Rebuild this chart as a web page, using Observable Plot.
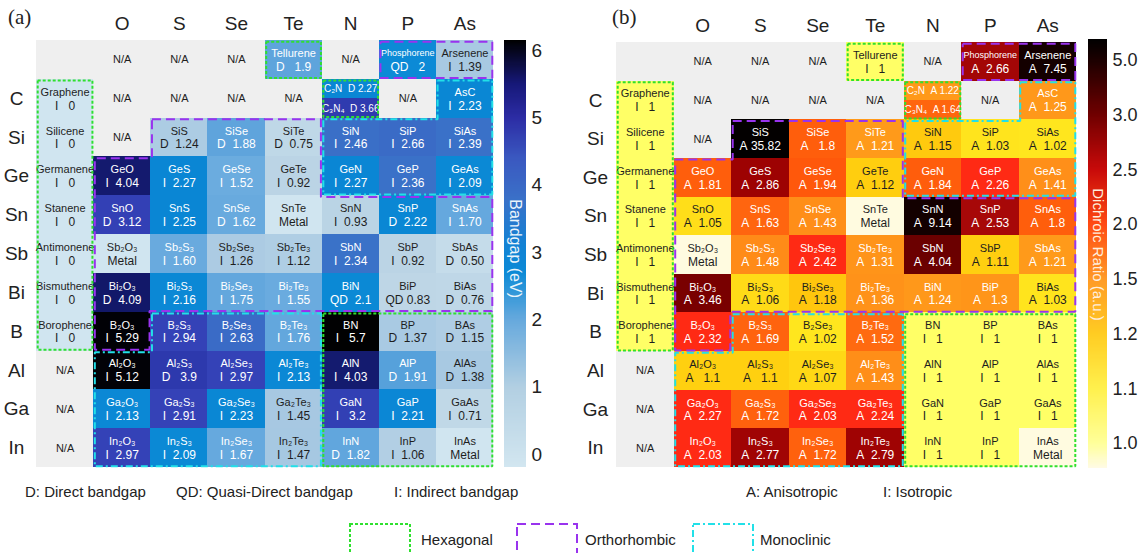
<!DOCTYPE html>
<html><head><meta charset="utf-8">
<script src="https://cdn.jsdelivr.net/npm/d3@7"></script>
<script src="https://cdn.jsdelivr.net/npm/@observablehq/plot@0.6"></script>
<style>
html,body{margin:0;padding:0;background:#fff;}
#root{position:relative;width:1139px;height:553px;overflow:hidden;font-family:"Liberation Sans",Arial,sans-serif;color:#222;}
#root > *{position:absolute;}
.plabel{font-family:"Liberation Serif","Times New Roman",serif;font-size:21px;line-height:24px;}
.note{font-size:15px;line-height:17px;white-space:nowrap;}
</style></head><body><div id="root"></div>
<script>
// ---------------- data ----------------
const columns = ["", "O", "S", "Se", "Te", "N", "P", "As"];
const rowLabels = ["", "C", "Si", "Ge", "Sn", "Sb", "Bi", "B", "Al", "Ga", "In"];
const names = [
  ["", "", "", "", "Tellurene", "", "Phosphorene", "Arsenene"],
  ["Graphene", "", "", "", "", "", "", "AsC"],
  ["Silicene", "", "SiS", "SiSe", "SiTe", "SiN", "SiP", "SiAs"],
  ["Germanene", "GeO", "GeS", "GeSe", "GeTe", "GeN", "GeP", "GeAs"],
  ["Stanene", "SnO", "SnS", "SnSe", "SnTe", "SnN", "SnP", "SnAs"],
  ["Antimonene", "Sb₂O₃", "Sb₂S₃", "Sb₂Se₃", "Sb₂Te₃", "SbN", "SbP", "SbAs"],
  ["Bismuthene", "Bi₂O₃", "Bi₂S₃", "Bi₂Se₃", "Bi₂Te₃", "BiN", "BiP", "BiAs"],
  ["Borophene", "B₂O₃", "B₂S₃", "B₂Se₃", "B₂Te₃", "BN", "BP", "BAs"],
  ["", "Al₂O₃", "Al₂S₃", "Al₂Se₃", "Al₂Te₃", "AlN", "AlP", "AlAs"],
  ["", "Ga₂O₃", "Ga₂S₃", "Ga₂Se₃", "Ga₂Te₃", "GaN", "GaP", "GaAs"],
  ["", "In₂O₃", "In₂S₃", "In₂Se₃", "In₂Te₃", "InN", "InP", "InAs"]
];
// bandgap type + value (eV)
const bandgap = [
  ["", "N/A", "N/A", "N/A", "D 1.9", "N/A", "QD 2", "I 1.39"],
  ["I 0", "N/A", "N/A", "N/A", "N/A", "split", "N/A", "I 2.23"],
  ["I 0", "N/A", "D 1.24", "D 1.88", "D 0.75", "I 2.46", "I 2.66", "I 2.39"],
  ["I 0", "I 4.04", "I 2.27", "I 1.52", "I 0.92", "I 2.27", "I 2.36", "I 2.09"],
  ["I 0", "D 3.12", "I 2.25", "D 1.62", "Metal", "I 0.93", "D 2.22", "I 1.70"],
  ["I 0", "Metal", "I 1.60", "I 1.26", "I 1.12", "I 2.34", "I 0.92", "D 0.50"],
  ["I 0", "D 4.09", "I 2.16", "I 1.75", "I 1.55", "QD 2.1", "QD 0.83", "D 0.76"],
  ["I 0", "I 5.29", "I 2.94", "I 2.63", "I 1.76", "I 5.7", "D 1.37", "D 1.15"],
  ["N/A", "I 5.12", "D 3.9", "I 2.97", "I 2.13", "I 4.03", "D 1.91", "D 1.38"],
  ["N/A", "I 2.13", "I 2.91", "I 2.23", "I 1.45", "I 3.2", "I 2.21", "I 0.71"],
  ["N/A", "I 2.97", "I 2.09", "I 1.67", "I 1.47", "D 1.82", "I 1.06", "Metal"]
];
// dichroic type + ratio
const dichroic = [
  ["", "N/A", "N/A", "N/A", "I 1", "N/A", "A 2.66", "A 7.45"],
  ["I 1", "N/A", "N/A", "N/A", "N/A", "split", "N/A", "A 1.25"],
  ["I 1", "N/A", "A 35.82", "A 1.8", "A 1.21", "A 1.15", "A 1.03", "A 1.02"],
  ["I 1", "A 1.81", "A 2.86", "A 1.94", "A 1.12", "A 1.84", "A 2.26", "A 1.41"],
  ["I 1", "A 1.05", "A 1.63", "A 1.43", "Metal", "A 9.14", "A 2.53", "A 1.8"],
  ["I 1", "Metal", "A 1.48", "A 2.42", "A 1.31", "A 4.04", "A 1.11", "A 1.21"],
  ["I 1", "A 3.46", "A 1.06", "A 1.18", "A 1.36", "A 1.24", "A 1.3", "A 1.03"],
  ["I 1", "A 2.32", "A 1.69", "A 1.02", "A 1.52", "I 1", "I 1", "I 1"],
  ["N/A", "A 1.1", "A 1.1", "A 1.07", "A 1.43", "I 1", "I 1", "I 1"],
  ["N/A", "A 2.27", "A 1.72", "A 2.03", "A 2.24", "I 1", "I 1", "I 1"],
  ["N/A", "A 2.03", "A 2.77", "A 1.72", "A 2.79", "I 1", "I 1", "Metal"]
];
const splitNames = ["C₂N", "C₃N₄"];
const splitBandgap = ["D 2.27", "D 3.66"];
const splitDichroic = ["A 1.22", "A 1.64"];

const gapTicks = [0, 1, 2, 3, 4, 5, 6];
const dichroicTicks = ["1.0", "1.1", "1.2", "1.5", "2.0", "2.5", "3.0", "5.0"];

// crystal-system regions, as outlines along cell boundaries (column, row)
const hexagonalRegions = [
  [[4,0],[5,0],[5,1],[4,1]],
  [[0,1],[1,1],[1,8],[0,8]],
  [[5,1],[6,1],[6,2],[5,2]],
  [[5,7],[8,7],[8,11],[5,11]]
];
const orthorhombicRegions = [
  [[6,0],[8,0],[8,1],[6,1]],
  [[2,2],[5,2],[5,4],[8,4],[8,7],[2,7],[2,8],[1,8],[1,3],[2,3]]
];
const monoclinicRegions = [
  [[7,1],[8,1],[8,4],[5,4],[5,2],[7,2]],
  [[2,7],[5,7],[5,11],[1,11],[1,8],[2,8]]
];

// ---------------- colour maps ----------------
const gapStops  = [0, 0.9, 1.1, 1.47, 1.5, 1.9, 2.0, 2.28, 2.32, 2.7, 2.85, 3.95, 4.0, 4.1, 5.0, 6.0];
const gapColors = ["#d0e5f0","#bcd5e5","#b0cee4","#a6c8e2","#6cacdf","#5ea4dc","#0c8ad6","#0a86d4","#3a72c8","#3a6ac6","#3543b8","#2d38ac","#151c72","#121868","#020208","#000000"];
const drStops  = [1.0, 1.0001, 1.1, 1.2, 1.21, 1.5, 1.51, 2.0, 2.01, 2.5, 2.51, 3.0, 3.4, 4.1, 7, 40];
const drColors = ["#ffff66","#ffec22","#ffd010","#ffc40c","#ff9a1a","#ff8a18","#ff6a10","#ff560a","#ff2a14","#ff2a14","#a80808","#980000","#7a0000","#6a0000","#140000","#000000"];
const gapBarStops  = [-0.19, 1, 2, 2.7, 3.1, 3.8, 4.4, 5.0, 5.5, 6.15];
const gapBarColors = ["#d2e6f0","#b2cfe2","#66a9dd","#0c8ad6","#1282d4","#3a70c8","#3a58c0","#2c2ca4","#161878","#000000"];
const drBarStops  = [-0.457, 0, 1, 2, 3, 4, 5, 6, 7, 7.386];
const drBarColors = ["#fffbe6","#ffff99","#fff04d","#ffcc22","#ff9a26","#ff4a12","#c80a0a","#700000","#1c0000","#000000"];

const GREEN = "#2fe02f", PURPLE = "#9933ee", CYAN = "#22e0e8";
const INK = "#1e1e1e";
const FONT = "Liberation Sans, Arial, sans-serif";

// ---------------- helpers ----------------
function buildCells(table, split) {
  const out = [];
  table.forEach((row, r) => row.forEach((s, c) => {
    if (s === "split") {
      split.forEach((t, k) => {
        const [type, val] = t.split(" ");
        out.push({c, r0: r + k * 0.5, r1: r + (k + 1) * 0.5, kind: "split", name: splitNames[k], type, val, v: +val});
      });
      return;
    }
    const base = {c, r0: r, r1: r + 1, name: names[r][c]};
    if (s === "") out.push({...base, kind: "blank"});
    else if (s === "N/A") out.push({...base, kind: "na"});
    else if (s === "Metal") out.push({...base, kind: "metal"});
    else {
      const [type, val] = s.split(" ");
      out.push({...base, kind: "value", type, val, v: +val});
    }
  }));
  return out;
}
const nb = n => "\u00a0".repeat(n);
const fmt = d => d.type + nb(Math.max(1, Math.min(3, 7 - d.type.length - d.val.length))) + d.val;

function outline(regions, name, ix, iy) {
  const pts = [];
  regions.forEach((poly, k) => {
    const n = poly.length;
    const shifted = poly.map((p, i) => {
      const a = poly[(i - 1 + n) % n], b = poly[(i + 1) % n];
      const e1 = [Math.sign(p[0] - a[0]), Math.sign(p[1] - a[1])];
      const e2 = [Math.sign(b[0] - p[0]), Math.sign(b[1] - p[1])];
      const nx = -e1[1] - e2[1], ny = e1[0] + e2[0];
      return {x: p[0] + nx * ix, y: p[1] + ny * iy, id: name + k};
    });
    shifted.push({...shifted[0]});
    pts.push(...shifted);
  });
  return pts;
}

function panel({table, split, domain, range, metalFill, whiteAt, marginTop, marginRight, rowX}) {
  const W = 500, H = 475;
  const cells = buildCells(table, split);
  const valued = cells.filter(d => d.kind === "value" || d.kind === "split");
  const grey = cells.filter(d => d.kind === "na" || d.kind === "blank");
  const metal = cells.filter(d => d.kind === "metal");
  const full = cells.filter(d => d.kind === "value" || d.kind === "metal");
  const halves = cells.filter(d => d.kind === "split");
  const ink = d => (d.kind !== "metal" && d.v >= whiteAt) ? "#ffffff" : INK;
  const R = {x1: d => d.c, x2: d => d.c + 1, y1: d => d.r0, y2: d => d.r1, shapeRendering: "crispEdges"};
  const cx = d => d.c + 0.5, cy = d => (d.r0 + d.r1) / 2;
  const pxX = (W - 36 - marginRight) / 8, pxY = (H - marginTop - 8) / 11;
  const ix = 1.2 / pxX, iy = 1.2 / pxY;
  const line = (regions, nm, stroke, dash) => Plot.line(outline(regions, nm, ix, iy), {
    x: "x", y: "y", z: "id", stroke, strokeWidth: 2, strokeDasharray: dash, strokeLinecap: "butt", strokeLinejoin: "miter"
  });
  return Plot.plot({
    width: W, height: H, marginLeft: 36, marginRight, marginTop, marginBottom: 8,
    x: {domain: [0, 8], axis: null},
    y: {domain: [0, 11], reverse: true, axis: null},
    color: {type: "linear", domain, range},
    style: {fontFamily: FONT, overflow: "visible", background: "transparent"},
    marks: [
      Plot.rect(grey, {...R, fill: "#efefef"}),
      Plot.rect(metal, {...R, fill: metalFill}),
      Plot.rect(valued, {...R, fill: "v"}),
      Plot.text(grey.filter(d => d.kind === "na"), {x: cx, y: cy, text: () => "N/A", fontSize: 11, fill: INK}),
      Plot.text(full, {x: cx, y: cy, dy: -6.5, text: "name", fontSize: d => d.name.length > 10 ? 9 : 11, fill: ink}),
      Plot.text(full, {x: cx, y: cy, dy: 7, text: d => d.kind === "metal" ? "Metal" : fmt(d), fontSize: 12, fill: ink}),
      Plot.text(halves, {x: cx, y: cy, text: d => d.name + nb(2) + d.type + " " + d.val, fontSize: 10, fill: ink}),
      line(monoclinicRegions, "m", CYAN, "7,3,2,3"),
      line(orthorhombicRegions, "o", PURPLE, "9,5"),
      line(hexagonalRegions, "h", GREEN, "3,2"),
      Plot.text(columns.slice(1), {x: (d, i) => i + 1.5, y: () => -0.42, text: d => d, fontSize: 19, fill: "#222"}),
      Plot.text(rowLabels.slice(1), {x: () => rowX, y: (d, i) => i + 1.5, text: d => d, fontSize: 19, fill: "#222"})
    ]
  });
}

function colorbar({W, marginLeft, marginRight, marginTop, marginBottom, lo, hi, stops, colors, ticks, label, labelAt, labelFill, labelSize, tickFont}) {
  const n = 400, step = (hi - lo) / n;
  const samples = d3.range(n).map(i => lo + i * step);
  return Plot.plot({
    width: W, height: 480, marginLeft, marginRight, marginTop, marginBottom,
    x: {domain: [0, 1], axis: null},
    y: {domain: [lo, hi], axis: null},
    color: {type: "linear", domain: stops, range: colors},
    style: {fontFamily: FONT, overflow: "visible", background: "transparent"},
    marks: [
      Plot.rect(samples, {x1: () => 0, x2: () => 1, y1: d => d, y2: d => Math.min(hi, d + step * 1.05), fill: d => d + step / 2, shapeRendering: "crispEdges"}),
      Plot.text(ticks, {x: () => 1, y: d => d.pos, text: d => d.label, dx: 5, textAnchor: "start", fontSize: tickFont, fill: "#222"}),
      Plot.text([label], {x: () => 0.5, y: () => labelAt, text: d => d, rotate: 90, fill: labelFill, fontSize: labelSize})
    ]
  });
}

// ---------------- layout ----------------
const root = document.getElementById("root");
function place(el, left, top) { el.style.left = left + "px"; el.style.top = top + "px"; root.appendChild(el); return el; }
function html(s) { const d = document.createElement("div"); d.innerHTML = s; return d.firstElementChild; }

place(panel({table: bandgap, split: splitBandgap, domain: gapStops, range: gapColors, metalFill: "#d0e5f0",
  whiteAt: 1.5, marginTop: 40, marginRight: 7, rowX: -0.35}), 0, 0);
place(colorbar({W: 60, marginLeft: 4, marginRight: 34, marginTop: 40, marginBottom: 13, lo: -0.19, hi: 6.15,
  stops: gapBarStops, colors: gapBarColors, ticks: gapTicks.map(t => ({pos: t, label: String(t)})),
  label: "Bandgap (eV)", labelAt: 3.06, labelFill: "#eaf4fb", labelSize: 16, tickFont: 19}), 500, 0);

place(panel({table: dichroic, split: splitDichroic, domain: drStops, range: drColors, metalFill: "#fffbe0",
  whiteAt: 1.2, marginTop: 42, marginRight: 4, rowX: -0.365}), 580, 0);
place(colorbar({W: 55, marginLeft: 4, marginRight: 32, marginTop: 39, marginBottom: 12, lo: -0.457, hi: 7.386,
  stops: drBarStops, colors: drBarColors, ticks: dichroicTicks.map((t, i) => ({pos: i, label: t})),
  label: "Dichroic Ratio (a.u.)", labelAt: 3.455, labelFill: "#ffeedd", labelSize: 15, tickFont: 18}), 1084, 0);

place(html('<div class="plabel">(a)</div>'), 8, 5);
place(html('<div class="plabel">(b)</div>'), 612, 5);

const notes = [["D: Direct bandgap", 25], ["QD: Quasi-Direct bandgap", 176], ["I: Indirect bandgap", 394],
               ["A: Anisotropic", 746], ["I: Isotropic", 883]];
notes.forEach(([t, x]) => place(html(`<div class="note">${t}</div>`), x, 483));

const legend = [["Hexagonal", GREEN, "3,2", 350, 421], ["Orthorhombic", PURPLE, "9,5", 517, 585], ["Monoclinic", CYAN, "7,3,2,3", 693, 760]];
legend.forEach(([t, col, dash, bx, tx]) => {
  place(html(`<svg width="62" height="40"><rect x="1" y="1" width="60" height="44" fill="none" stroke="${col}" stroke-width="2" stroke-dasharray="${dash}"/></svg>`), bx - 1, 523);
  place(html(`<div class="note">${t}</div>`), tx, 531);
});
</script></body></html>
